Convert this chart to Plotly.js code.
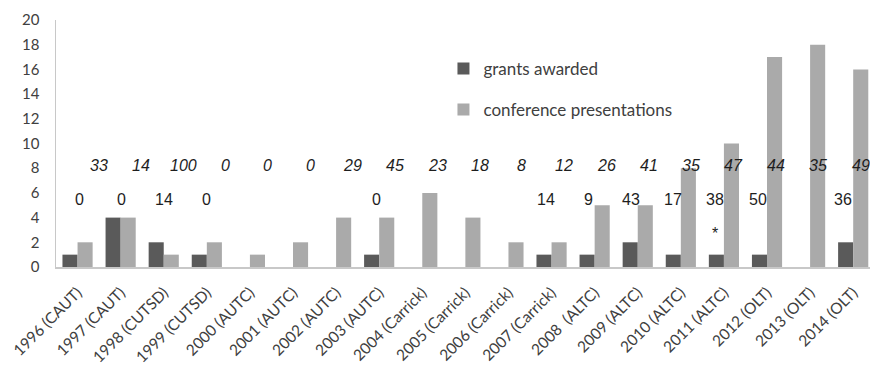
<!DOCTYPE html>
<html>
<head>
<meta charset="utf-8">
<script src="https://cdn.plot.ly/plotly-3.0.1.min.js"></script>
<style>
  html, body { margin: 0; padding: 0; background: #fff; }
  #chart { width: 870px; height: 365px; }
</style>
</head>
<body>
<div id="chart"></div>
<script>
// Funding body by year
const categories = [
  '1996 (CAUT)', '1997 (CAUT)', '1998 (CUTSD)', '1999 (CUTSD)',
  '2000 (AUTC)', '2001 (AUTC)', '2002 (AUTC)', '2003 (AUTC)',
  '2004 (Carrick)', '2005 (Carrick)', '2006 (Carrick)', '2007 (Carrick)',
  '2008\u00a0 (ALTC)', '2009 (ALTC)', '2010 (ALTC)', '2011 (ALTC)',
  '2012 (OLT)', '2013 (OLT)', '2014 (OLT)'
];

const grantsAwarded = [1, 4, 2, 1, 0, 0, 0, 1, 0, 0, 0, 1, 1, 2, 1, 1, 1, 0, 2];
const conferencePresentations = [2, 4, 1, 2, 1, 2, 4, 4, 6, 4, 2, 2, 5, 5, 8, 10, 17, 18, 16];

// Italic figures printed in the upper row
const upperLabels = ['33', '14', '100', '0', '0', '0', '29', '45', '23', '18', '8', '12', '26', '41', '35', '47', '44', '35', '49'];
// Figures printed in the lower row (only for years with grants)
const lowerLabels = ['0', '0', '14', '0', '', '', '', '0', '', '', '', '14', '9', '43', '17', '38', '50', '', '36'];
// Footnote marker
const markerLabels = ['', '', '', '', '', '', '', '', '', '', '', '', '', '', '', '*', '', '', ''];

const UPPER_Y = 8.2;
const LOWER_Y = 5.5;
const MARKER_Y = 2.7;

const labelFont = { family: 'Liberation Sans, Arial, sans-serif', size: 16, color: '#1e1e1e' };

const annotations = [];
categories.forEach((cat, i) => {
  if (upperLabels[i] !== '') {
    annotations.push({
      x: cat, y: UPPER_Y, xref: 'x', yref: 'y',
      text: '<i>' + upperLabels[i] + '</i>', showarrow: false,
      xanchor: 'center', yanchor: 'middle',
      xshift: 21 - 0.75 * i,
      font: labelFont
    });
  }
  if (lowerLabels[i] !== '') {
    annotations.push({
      x: cat, y: LOWER_Y, xref: 'x', yref: 'y',
      text: lowerLabels[i], showarrow: false,
      xanchor: 'center', yanchor: 'middle',
      xshift: 2 - 0.7 * i,
      font: labelFont
    });
  }
  if (markerLabels[i] !== '') {
    annotations.push({
      x: cat, y: MARKER_Y, xref: 'x', yref: 'y',
      text: markerLabels[i], showarrow: false,
      xanchor: 'center', yanchor: 'middle',
      xshift: 2 - 0.7 * i,
      font: labelFont
    });
  }
});

const traces = [
  {
    type: 'bar', name: 'grants awarded',
    x: categories, y: grantsAwarded,
    marker: { color: '#5a5a5a' },
    legendgroup: 'grants', hoverinfo: 'x+y'
  },
  {
    type: 'bar', name: 'conference presentations',
    x: categories, y: conferencePresentations,
    marker: { color: '#aaaaaa' },
    legendgroup: 'conf', hoverinfo: 'x+y'
  }
];

const tickFont = { family: 'Lato, Carlito, sans-serif', size: 15, color: '#404040' };

const layout = {
  width: 870, height: 365,
  margin: { l: 56, r: 0, t: 20, b: 98 },
  paper_bgcolor: '#ffffff', plot_bgcolor: '#ffffff',
  barmode: 'group', bargap: 0.3, bargroupgap: 0,
  showlegend: true,
  legend: {
    x: 0.476, y: 0.875, xanchor: 'left', yanchor: 'top',
    traceorder: 'grouped', tracegroupgap: 16,
    font: { family: 'Lato, Carlito, sans-serif', size: 17, color: '#404040' },
    bgcolor: 'rgba(0,0,0,0)'
  },
  xaxis: {
    type: 'category',
    range: [-0.5, 18.39],
    showline: true, linecolor: '#c8c8c8', linewidth: 1.5,
    showgrid: false, zeroline: false,
    ticks: 'outside', ticklen: 9, tickcolor: 'rgba(0,0,0,0)',
    tickangle: -45,
    tickfont: { family: 'Lato, Carlito, sans-serif', size: 15.5, color: '#404040' },
    automargin: false,
    fixedrange: true
  },
  yaxis: {
    range: [0, 20], dtick: 2, tick0: 0,
    showline: true, linecolor: '#c8c8c8', linewidth: 1.5,
    showgrid: false, zeroline: false, ticks: '',
    tickfont: tickFont, ticklabelstandoff: 12,
    fixedrange: true
  },
  annotations: annotations
};

Plotly.newPlot('chart', traces, layout, { displayModeBar: false, staticPlot: true });
</script>
</body>
</html>
